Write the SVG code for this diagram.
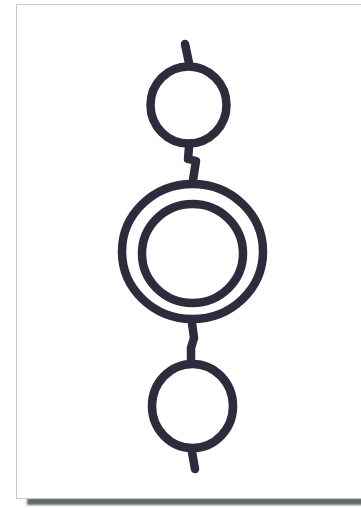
<svg xmlns="http://www.w3.org/2000/svg" width="361" height="508" viewBox="0 0 361 508">
<defs>
<style>
.ink{fill:none;stroke:#2d2c3c;stroke-width:8.5;stroke-linecap:round;stroke-linejoin:round}
</style>
<filter id="blur" x="-5%" y="-50%" width="110%" height="200%"><feGaussianBlur stdDeviation="0.8"/></filter>
</defs>
<rect x="0" y="0" width="361" height="508" fill="#ffffff"/>
<rect x="27" y="498" width="340" height="7" fill="#646969" filter="url(#blur)"/>
<rect x="16.5" y="4.5" width="350" height="494" fill="#ffffff" stroke="#c9c9c9" stroke-width="1"/>
<g id="connectors">
<path class="ink" d="M185,44 L189,63"/>
<path class="ink" d="M189,147 L188,159 L196,161 L193,180"/>
<path class="ink" d="M192,323 L194,338 L191,348 L191,362"/>
<path class="ink" d="M192,452 L195,469"/>
</g>
<g id="node-top">
<ellipse class="ink" cx="188.5" cy="105" rx="38" ry="38.5"/>
</g>
<g id="node-middle">
<ellipse class="ink" cx="192.5" cy="251.5" rx="70.5" ry="67.5"/>
<ellipse class="ink" cx="192.5" cy="253.5" rx="50.5" ry="49.5"/>
</g>
<g id="node-bottom">
<ellipse class="ink" cx="192.5" cy="406" rx="40.5" ry="42"/>
</g>
</svg>
